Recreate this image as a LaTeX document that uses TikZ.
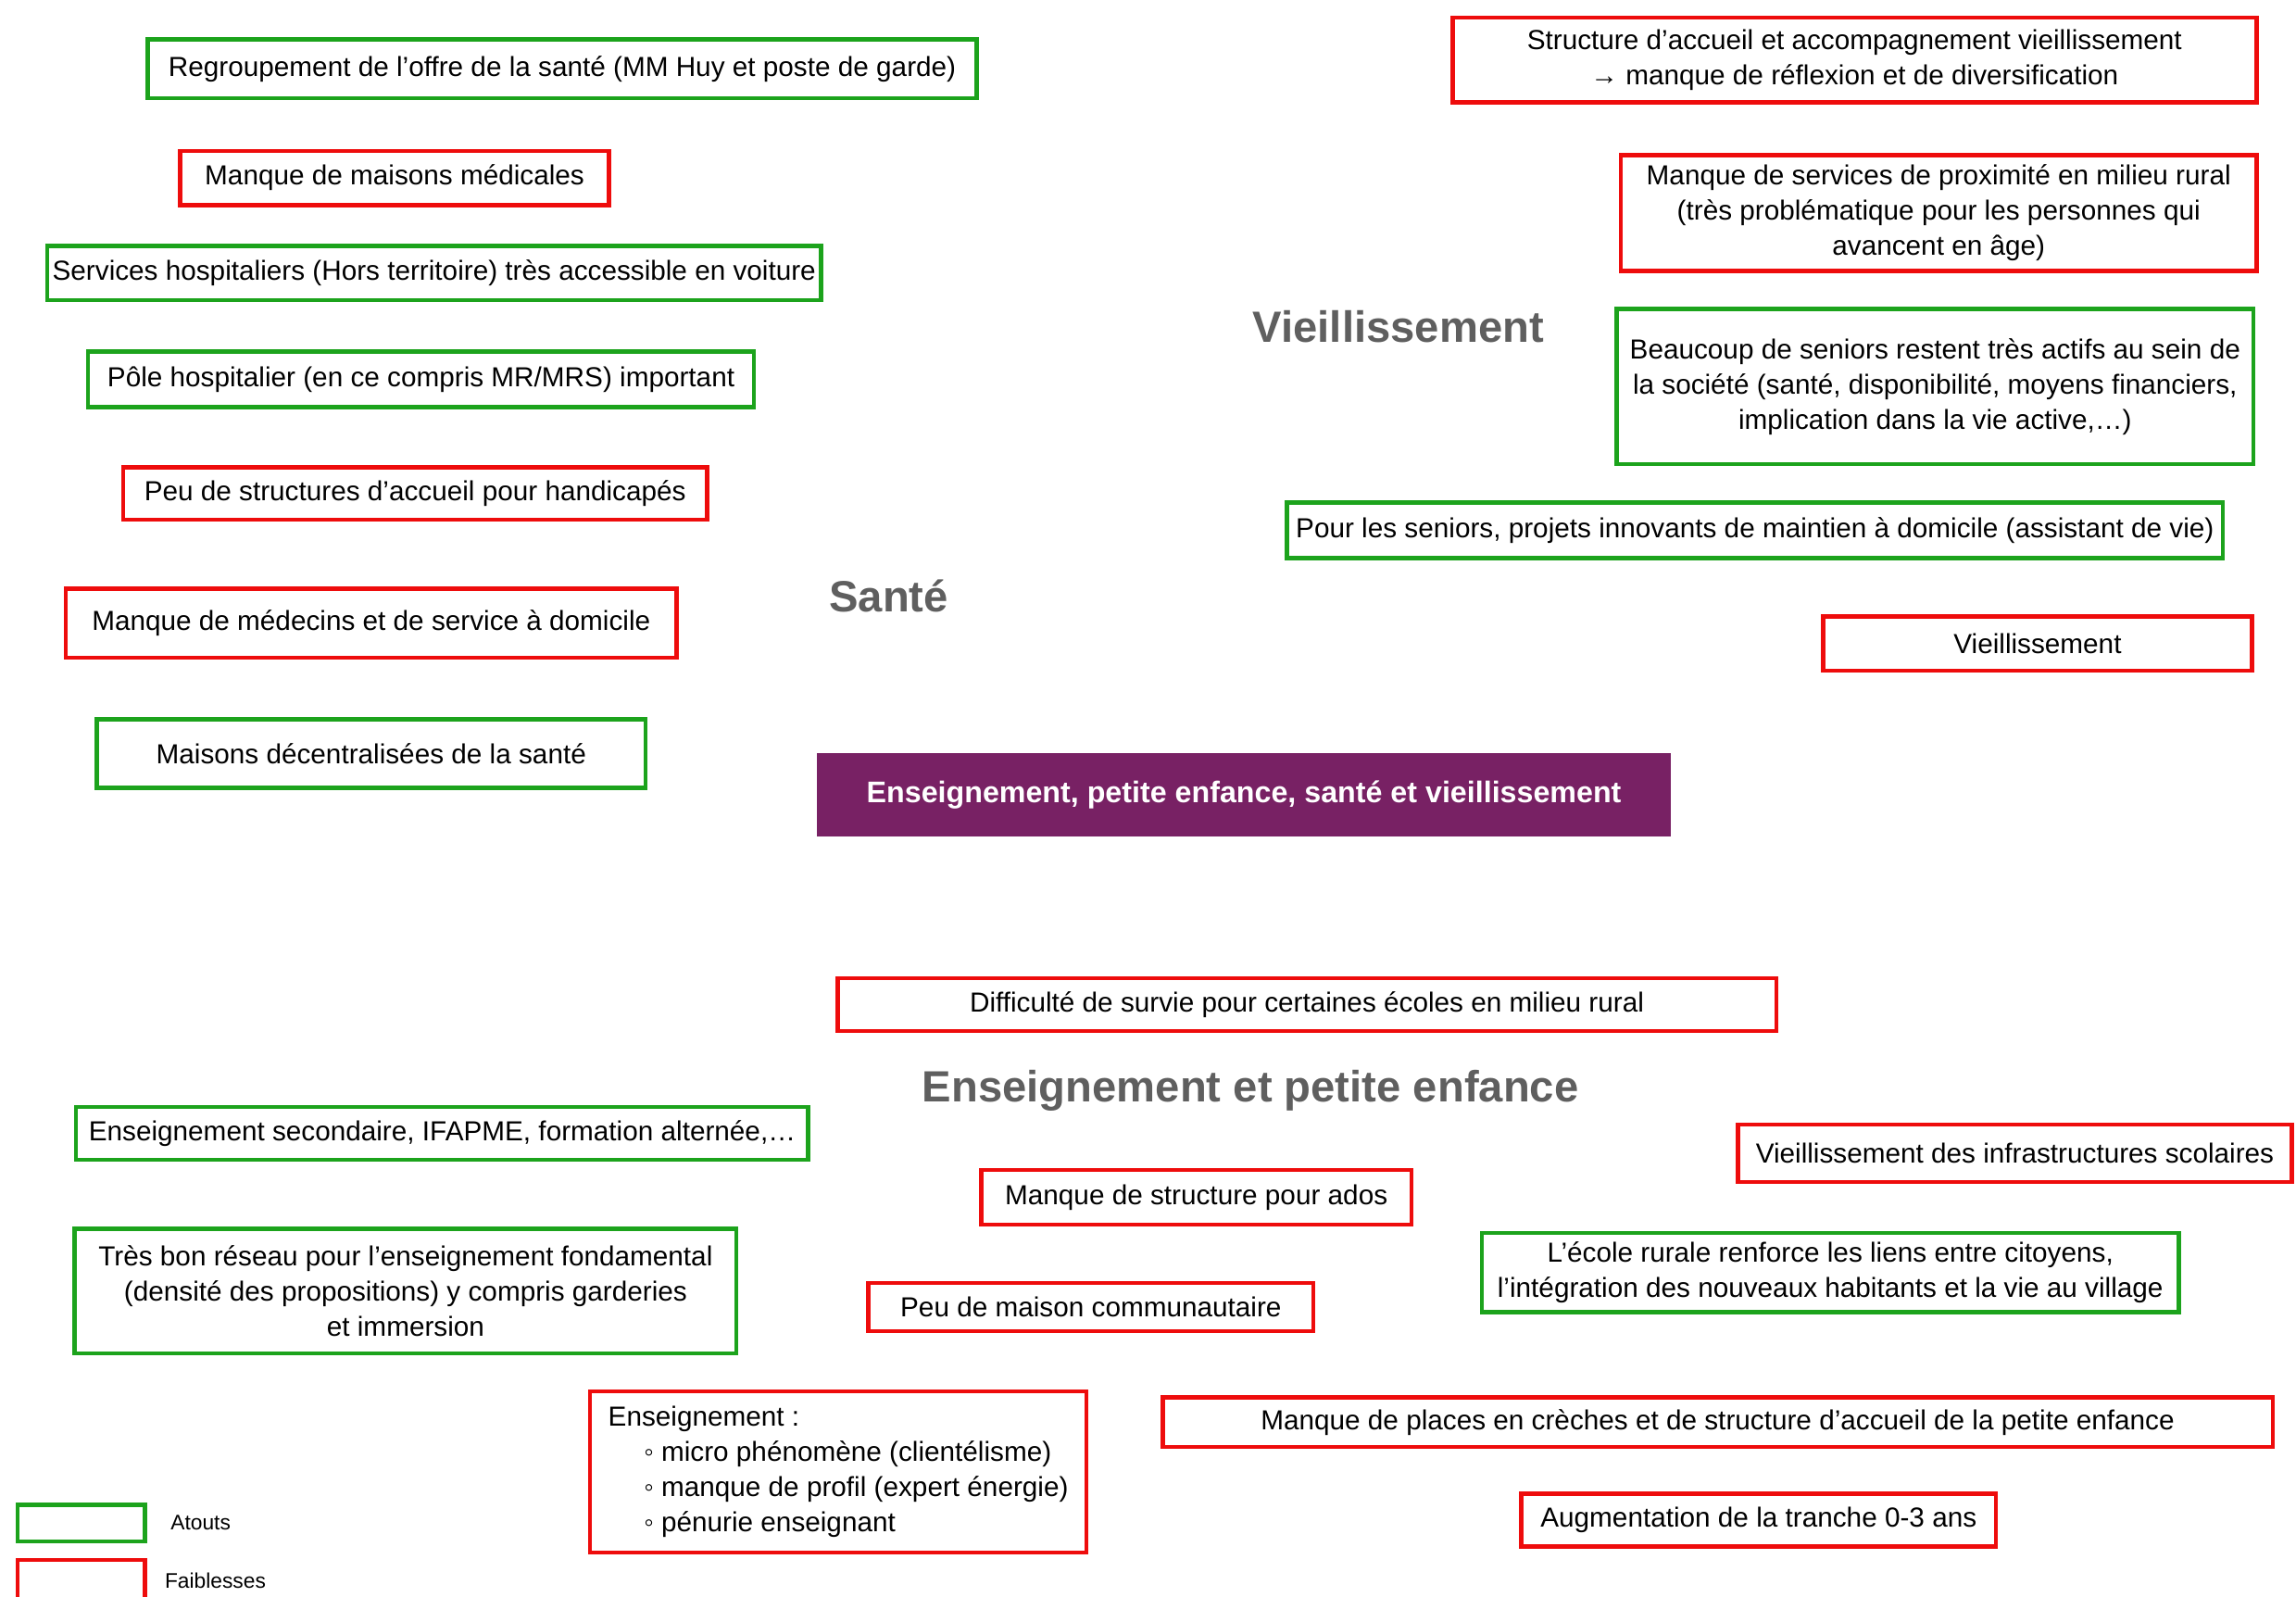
\documentclass[tikz,border=0pt]{standalone}
\usepackage{fontspec}
\setmainfont{Liberation Sans}
\usepackage{xcolor}
\definecolor{atout}{RGB}{28,163,28}
\definecolor{faible}{RGB}{238,12,12}
\definecolor{theme}{RGB}{120,33,100}
\definecolor{titre}{RGB}{95,95,95}

\begin{document}
\begin{tikzpicture}[x=0.02cm, y=-0.02cm,
    box/.style={draw, line width=1.6pt, inner sep=2pt, align=center,
        font=\fontsize{10.7}{13.7}\selectfont},
    atoutbox/.style={box, draw=atout},
    faiblebox/.style={box, draw=faible},
    sz/.style 2 args={minimum width=#1*0.02cm, minimum height=#2*0.02cm},
    heading/.style={font=\fontsize{17}{20}\selectfont\bfseries, text=titre}]
    \useasboundingbox (0,0) rectangle (1568,1090);

    % Centre
    \node[fill=theme, text=white, sz={583}{57}, font=\fontsize{11.6}{14}\selectfont\bfseries]
        (centre) at (849.5,542.5) {Enseignement, petite enfance, santé et vieillissement};

    % Santé
    \node[heading] (sante) at (607,407) {Santé};
    \node[atoutbox, sz={566}{40}] (regroup) at (384,47) {Regroupement de l’offre de la santé (MM Huy et poste de garde)};
    \node[faiblebox, sz={293}{37}] (maisons) at (269.5,121.5) {Manque de maisons médicales};
    \node[atoutbox, sz={527}{37}] (hospit) at (296.5,186.5) {Services hospitaliers (Hors territoire) très accessible en voiture};
    \node[atoutbox, sz={455}{38}] (pole) at (287.5,259) {Pôle hospitalier (en ce compris MR/MRS) important};
    \node[faiblebox, sz={399}{36}] (handic) at (283.5,337) {Peu de structures d’accueil pour handicapés};
    \node[faiblebox, sz={417}{47}] (medecins) at (253.5,425.5) {Manque de médecins et de service à domicile};
    \node[atoutbox, sz={375}{47}] (decentr) at (253.5,514.5) {Maisons décentralisées de la santé};

    % Vieillissement
    \node[heading] (vieil) at (955,223) {Vieillissement};
    \node[faiblebox, sz={549}{58}] (accueil) at (1266.5,41) {Structure d’accueil et accompagnement vieillissement\\→ manque de réflexion et de diversification};
    \node[faiblebox, sz={434}{79}] (proxi) at (1324,145.5) {Manque de services de proximité en milieu rural\\(très problématique pour les personnes qui\\avancent en âge)};
    \node[atoutbox, sz={435}{106}] (seniors) at (1321.5,264) {Beaucoup de seniors restent très actifs au sein de\\la société (santé, disponibilité, moyens financiers,\\implication dans la vie active,…)};
    \node[atoutbox, sz={639}{38}] (projets) at (1198.5,362) {Pour les seniors, projets innovants de maintien à domicile (assistant de vie)};
    \node[faiblebox, sz={293}{37}] (vieilbox) at (1391.5,439.5) {Vieillissement};

    % Enseignement et petite enfance
    \node[heading] (ens) at (854,745) {Enseignement et petite enfance};
    \node[faiblebox, sz={641}{36}] (survie) at (892.5,686) {Difficulté de survie pour certaines écoles en milieu rural};
    \node[atoutbox, sz={500}{36}] (second) at (302,774) {Enseignement secondaire, IFAPME, formation alternée,…};
    \node[faiblebox, sz={378}{39}] (infra) at (1376,787.5) {Vieillissement des infrastructures scolaires};
    \node[faiblebox, sz={294}{37}] (ados) at (817,817.5) {Manque de structure pour ados};
    \node[atoutbox, sz={452}{85}] (reseau) at (277,881.5) {Très bon réseau pour l’enseignement fondamental\\(densité des propositions) y compris garderies\\et immersion};
    \node[atoutbox, sz={476}{54}] (rurale) at (1250,869) {L’école rurale renforce les liens entre citoyens,\\l’intégration des nouveaux habitants et la vie au village};
    \node[faiblebox, sz={304}{33}] (commun) at (745,892.5) {Peu de maison communautaire};
    \node[faiblebox, sz={339}{110}, align=left] (penurie) at (572.5,1005)
        {Enseignement :\\\hspace*{1.3em}◦ micro phénomène (clientélisme)\\\hspace*{1.3em}◦ manque de profil (expert énergie)\\\hspace*{1.3em}◦ pénurie enseignant};
    \node[faiblebox, sz={758}{34}] (creches) at (1173,971) {Manque de places en crèches et de structure d’accueil de la petite enfance};
    \node[faiblebox, sz={324}{36}] (tranche) at (1201,1038) {Augmentation de la tranche 0-3 ans};

    % Legende
    \node[atoutbox, sz={87}{25}] (legat) at (55.5,1040) {};
    \node[faiblebox, sz={87}{29}] (legfa) at (55.5,1079.5) {};
    \node[right=0.2cm, font=\fontsize{8.2}{10}\selectfont] (atouts) at (legat.east) {Atouts};
    \node[right=0.12cm, font=\fontsize{8.2}{10}\selectfont] (faibles) at (legfa.east) {Faiblesses};
\end{tikzpicture}
\end{document}
